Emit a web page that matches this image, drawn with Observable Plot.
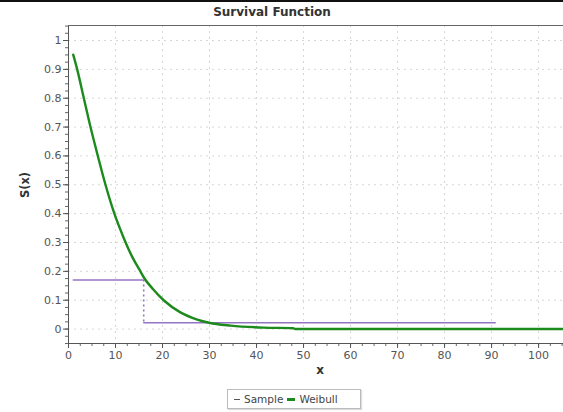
<!DOCTYPE html>
<html><head><meta charset="utf-8">
<script src="https://cdn.jsdelivr.net/npm/d3@7"></script>
<script src="https://cdn.jsdelivr.net/npm/@observablehq/plot@0.6"></script>
<style>
body{margin:0;background:#fff;font-family:"DejaVu Sans",Verdana,sans-serif}
#wrap{position:relative;width:563px;height:412px;overflow:hidden;background:#fff}
#topline{position:absolute;left:0;top:0;width:563px;height:2px;background:#111}
#title{position:absolute;left:0;width:544px;top:5px;text-align:center;font-weight:bold;font-size:12px;color:#333}
#ylab{position:absolute;left:25px;top:185px;transform:translate(-50%,-50%) rotate(-90deg);font-weight:bold;font-size:11.5px;color:#333;white-space:nowrap}
#xlab{position:absolute;left:320px;top:370px;transform:translate(-50%,-50%);font-weight:bold;font-size:12px;color:#333}
#legend{position:absolute;left:227px;top:389px;width:132px;height:18px;border:1px solid #bbb;box-shadow:1px 1px 1px #ddd;font-size:10.5px;color:#444;display:flex;align-items:center;white-space:nowrap}
.sw{display:inline-block;height:0;margin:0 4px 0 0}
#chart{position:absolute;left:0;top:0}
</style></head>
<body>
<div id="wrap">
  <div id="chart"></div>
  <div id="topline"></div>
  <div id="title">Survival Function</div>
  <div id="ylab">S(x)</div>
  <div id="xlab">x</div>
  <div id="legend"></div>
</div>
<script>
// Weibull fitted survival curve
const weibullX = [1, 1.85, 3.26, 4.68, 6.24, 7.87, 9.65, 11.77, 13.5, 15.3, 16.1, 18.0, 20.3, 23.8, 27.4, 29.9, 34.5, 41.5, 47.8, 48.2, 60, 80, 105.3];
const weibullS = [0.951, 0.9, 0.8, 0.7, 0.6, 0.5, 0.405, 0.315, 0.252, 0.2, 0.177, 0.138, 0.099, 0.058, 0.033, 0.022, 0.012, 0.005, 0.003, 0.0005, 0, 0, 0];
// Sample (empirical) step function
const sampleStart = [1, 16];
const sampleEnd = [16, 91];
const sampleS = [0.17, 0.022];
// Ticks
const xTicks = [0, 10, 20, 30, 40, 50, 60, 70, 80, 90, 100];
const yTicks = [0, 0.1, 0.2, 0.3, 0.4, 0.5, 0.6, 0.7, 0.8, 0.9, 1];
const seriesNames = ["Sample", "Weibull"];
const seriesColors = ["#9475c4", "#1d8a1d"];

const weibull = weibullX.map((x, i) => ({x, s: weibullS[i]}));
const steps = sampleStart.map((x1, i) => ({x1, x2: sampleEnd[i], s: sampleS[i]}));
const drops = steps.slice(1).map((d, i) => ({x: d.x1, s1: steps[i].s, s2: d.s}));
const xMinor = d3.range(0, 105.3, 2.5);
const yMinor = d3.range(-0.05, 1.06, 0.025).map(v => +v.toFixed(3));

const plot = Plot.plot({
  width: 563, height: 412,
  marginLeft: 68, marginRight: 0, marginTop: 25, marginBottom: 69,
  x: {domain: [0, 105.3]},
  y: {domain: [-0.05, 1.052]},
  style: {fontFamily: '"DejaVu Sans", Verdana, sans-serif', fontSize: "11px", color: "#555", background: "transparent"},
  marks: [
    Plot.gridX(xTicks, {stroke: "#d6d6d6", strokeOpacity: 1, strokeDasharray: "2,4"}),
    Plot.gridY(yTicks, {stroke: "#d6d6d6", strokeOpacity: 1, strokeDasharray: "2,4"}),
    Plot.axisX(xMinor, {tickSize: 3, tickFormat: () => "", label: null, stroke: "#666"}),
    Plot.axisX(xTicks, {tickSize: 5, tickPadding: 3, label: null, stroke: "#555", fill: "#555"}),
    Plot.axisY(yMinor, {tickSize: 3, tickFormat: () => "", label: null, stroke: "#666"}),
    Plot.axisY(yTicks, {tickSize: 5, tickPadding: 2, label: null, stroke: "#555", fill: "#555", tickFormat: d => String(+d.toFixed(1))}),
    Plot.frame({anchor: "left", stroke: "#555"}),
    Plot.frame({anchor: "bottom", stroke: "#555"}),
    Plot.frame({anchor: "top", stroke: "#666"}),
    Plot.ruleY(steps, {x1: "x1", x2: "x2", y: "s", stroke: seriesColors[0], strokeWidth: 1.6}),
    Plot.ruleX(drops, {x: "x", y1: "s1", y2: "s2", stroke: seriesColors[0], strokeWidth: 1.6, strokeDasharray: "2,3"}),
    Plot.line(weibull, {x: "x", y: "s", stroke: seriesColors[1], strokeWidth: 2.4, curve: "monotone-x"})
  ]
});
document.getElementById("chart").appendChild(plot);

const lg = document.getElementById("legend");
seriesNames.forEach((n, i) => {
  const item = document.createElement("span");
  item.style.cssText = "display:inline-flex;align-items:center;margin-left:" + (i ? 4 : 6) + "px";
  const sw = document.createElement("span");
  sw.className = "sw";
  sw.style.width = i ? "8px" : "6px";
  sw.style.borderTop = (i ? 3 : 1.5) + "px solid " + (i ? seriesColors[1] : "#555");
  item.appendChild(sw);
  item.appendChild(document.createTextNode(n));
  lg.appendChild(item);
});
</script>
</body></html>
